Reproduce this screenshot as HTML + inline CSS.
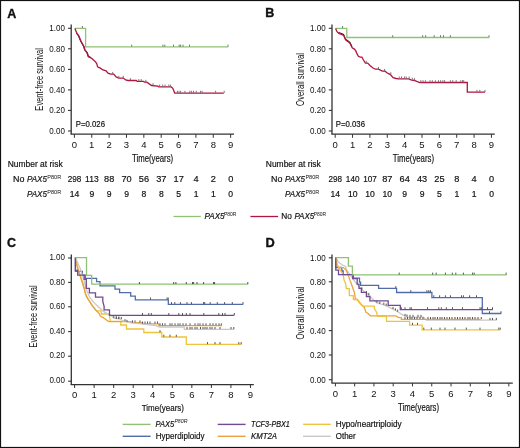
<!DOCTYPE html>
<html><head><meta charset="utf-8"><style>
html,body{margin:0;padding:0;background:#fff;}
svg{display:block;font-family:"Liberation Sans",sans-serif;filter:blur(0.35px);}
text{stroke:#111;stroke-width:0.18px;}
.lt{stroke-width:0;}
</style></head><body>
<svg width="520" height="448" viewBox="0 0 520 448">
<rect x="0" y="0" width="520" height="448" fill="#fff"/>
<path d="M71.2,24.5 V134.2" stroke="#333333" stroke-width="1.3" fill="none" stroke-linejoin="miter"/>
<path d="M68.0,28.3 H71.2" stroke="#333333" stroke-width="1.1" fill="none" stroke-linejoin="miter"/>
<text x="64.9" y="31.3" font-size="9.6" text-anchor="end" textLength="15.6" lengthAdjust="spacingAndGlyphs" fill="#111111" class="lt">1.00</text>
<path d="M68.0,48.8 H71.2" stroke="#333333" stroke-width="1.1" fill="none" stroke-linejoin="miter"/>
<text x="64.9" y="51.8" font-size="9.6" text-anchor="end" textLength="15.6" lengthAdjust="spacingAndGlyphs" fill="#111111" class="lt">0.80</text>
<path d="M68.0,69.4 H71.2" stroke="#333333" stroke-width="1.1" fill="none" stroke-linejoin="miter"/>
<text x="64.9" y="72.4" font-size="9.6" text-anchor="end" textLength="15.6" lengthAdjust="spacingAndGlyphs" fill="#111111" class="lt">0.60</text>
<path d="M68.0,89.9 H71.2" stroke="#333333" stroke-width="1.1" fill="none" stroke-linejoin="miter"/>
<text x="64.9" y="92.9" font-size="9.6" text-anchor="end" textLength="15.6" lengthAdjust="spacingAndGlyphs" fill="#111111" class="lt">0.40</text>
<path d="M68.0,110.4 H71.2" stroke="#333333" stroke-width="1.1" fill="none" stroke-linejoin="miter"/>
<text x="64.9" y="113.4" font-size="9.6" text-anchor="end" textLength="15.6" lengthAdjust="spacingAndGlyphs" fill="#111111" class="lt">0.20</text>
<path d="M68.0,131.0 H71.2" stroke="#333333" stroke-width="1.1" fill="none" stroke-linejoin="miter"/>
<text x="64.9" y="134.0" font-size="9.6" text-anchor="end" textLength="15.6" lengthAdjust="spacingAndGlyphs" fill="#111111" class="lt">0.00</text>
<path d="M70.60000000000001,134.2 H234" stroke="#333333" stroke-width="1.3" fill="none" stroke-linejoin="miter"/>
<path d="M74.4,134.2 V137.8" stroke="#333333" stroke-width="1.0" fill="none" stroke-linejoin="miter"/>
<text x="74.4" y="147.8" font-size="9.5" text-anchor="middle" fill="#111111" class="lt">0</text>
<path d="M91.76,134.2 V137.8" stroke="#333333" stroke-width="1.0" fill="none" stroke-linejoin="miter"/>
<text x="91.76" y="147.8" font-size="9.5" text-anchor="middle" fill="#111111" class="lt">1</text>
<path d="M109.12,134.2 V137.8" stroke="#333333" stroke-width="1.0" fill="none" stroke-linejoin="miter"/>
<text x="109.12" y="147.8" font-size="9.5" text-anchor="middle" fill="#111111" class="lt">2</text>
<path d="M126.48,134.2 V137.8" stroke="#333333" stroke-width="1.0" fill="none" stroke-linejoin="miter"/>
<text x="126.48" y="147.8" font-size="9.5" text-anchor="middle" fill="#111111" class="lt">3</text>
<path d="M143.84,134.2 V137.8" stroke="#333333" stroke-width="1.0" fill="none" stroke-linejoin="miter"/>
<text x="143.84" y="147.8" font-size="9.5" text-anchor="middle" fill="#111111" class="lt">4</text>
<path d="M161.2,134.2 V137.8" stroke="#333333" stroke-width="1.0" fill="none" stroke-linejoin="miter"/>
<text x="161.2" y="147.8" font-size="9.5" text-anchor="middle" fill="#111111" class="lt">5</text>
<path d="M178.56,134.2 V137.8" stroke="#333333" stroke-width="1.0" fill="none" stroke-linejoin="miter"/>
<text x="178.56" y="147.8" font-size="9.5" text-anchor="middle" fill="#111111" class="lt">6</text>
<path d="M195.92000000000002,134.2 V137.8" stroke="#333333" stroke-width="1.0" fill="none" stroke-linejoin="miter"/>
<text x="195.92000000000002" y="147.8" font-size="9.5" text-anchor="middle" fill="#111111" class="lt">7</text>
<path d="M213.28,134.2 V137.8" stroke="#333333" stroke-width="1.0" fill="none" stroke-linejoin="miter"/>
<text x="213.28" y="147.8" font-size="9.5" text-anchor="middle" fill="#111111" class="lt">8</text>
<path d="M230.64000000000001,134.2 V137.8" stroke="#333333" stroke-width="1.0" fill="none" stroke-linejoin="miter"/>
<text x="230.64000000000001" y="147.8" font-size="9.5" text-anchor="middle" fill="#111111" class="lt">9</text>
<text x="132.0" y="161.8" font-size="10.4" textLength="41.2" lengthAdjust="spacingAndGlyphs" fill="#111111">Time(years)</text>
<text transform="translate(42.7,79.4) rotate(-90)" x="0" y="0" class="lt" font-size="10.5" text-anchor="middle" textLength="62.5" lengthAdjust="spacingAndGlyphs" fill="#111111">Event-free survival</text>
<text x="75.8" y="127.0" font-size="8.9" textLength="29.2" lengthAdjust="spacingAndGlyphs" fill="#111111">P=0.026</text>
<path d="M332.0,24.5 V134.2" stroke="#333333" stroke-width="1.3" fill="none" stroke-linejoin="miter"/>
<path d="M328.8,28.3 H332.0" stroke="#333333" stroke-width="1.1" fill="none" stroke-linejoin="miter"/>
<text x="325.70000000000005" y="31.3" font-size="9.6" text-anchor="end" textLength="15.6" lengthAdjust="spacingAndGlyphs" fill="#111111" class="lt">1.00</text>
<path d="M328.8,48.8 H332.0" stroke="#333333" stroke-width="1.1" fill="none" stroke-linejoin="miter"/>
<text x="325.70000000000005" y="51.8" font-size="9.6" text-anchor="end" textLength="15.6" lengthAdjust="spacingAndGlyphs" fill="#111111" class="lt">0.80</text>
<path d="M328.8,69.4 H332.0" stroke="#333333" stroke-width="1.1" fill="none" stroke-linejoin="miter"/>
<text x="325.70000000000005" y="72.4" font-size="9.6" text-anchor="end" textLength="15.6" lengthAdjust="spacingAndGlyphs" fill="#111111" class="lt">0.60</text>
<path d="M328.8,89.9 H332.0" stroke="#333333" stroke-width="1.1" fill="none" stroke-linejoin="miter"/>
<text x="325.70000000000005" y="92.9" font-size="9.6" text-anchor="end" textLength="15.6" lengthAdjust="spacingAndGlyphs" fill="#111111" class="lt">0.40</text>
<path d="M328.8,110.4 H332.0" stroke="#333333" stroke-width="1.1" fill="none" stroke-linejoin="miter"/>
<text x="325.70000000000005" y="113.4" font-size="9.6" text-anchor="end" textLength="15.6" lengthAdjust="spacingAndGlyphs" fill="#111111" class="lt">0.20</text>
<path d="M328.8,131.0 H332.0" stroke="#333333" stroke-width="1.1" fill="none" stroke-linejoin="miter"/>
<text x="325.70000000000005" y="134.0" font-size="9.6" text-anchor="end" textLength="15.6" lengthAdjust="spacingAndGlyphs" fill="#111111" class="lt">0.00</text>
<path d="M331.4,134.2 H494.8" stroke="#333333" stroke-width="1.3" fill="none" stroke-linejoin="miter"/>
<path d="M335.20000000000005,134.2 V137.8" stroke="#333333" stroke-width="1.0" fill="none" stroke-linejoin="miter"/>
<text x="335.20000000000005" y="147.8" font-size="9.5" text-anchor="middle" fill="#111111" class="lt">0</text>
<path d="M352.56000000000006,134.2 V137.8" stroke="#333333" stroke-width="1.0" fill="none" stroke-linejoin="miter"/>
<text x="352.56000000000006" y="147.8" font-size="9.5" text-anchor="middle" fill="#111111" class="lt">1</text>
<path d="M369.9200000000001,134.2 V137.8" stroke="#333333" stroke-width="1.0" fill="none" stroke-linejoin="miter"/>
<text x="369.9200000000001" y="147.8" font-size="9.5" text-anchor="middle" fill="#111111" class="lt">2</text>
<path d="M387.28000000000003,134.2 V137.8" stroke="#333333" stroke-width="1.0" fill="none" stroke-linejoin="miter"/>
<text x="387.28000000000003" y="147.8" font-size="9.5" text-anchor="middle" fill="#111111" class="lt">3</text>
<path d="M404.64000000000004,134.2 V137.8" stroke="#333333" stroke-width="1.0" fill="none" stroke-linejoin="miter"/>
<text x="404.64000000000004" y="147.8" font-size="9.5" text-anchor="middle" fill="#111111" class="lt">4</text>
<path d="M422.00000000000006,134.2 V137.8" stroke="#333333" stroke-width="1.0" fill="none" stroke-linejoin="miter"/>
<text x="422.00000000000006" y="147.8" font-size="9.5" text-anchor="middle" fill="#111111" class="lt">5</text>
<path d="M439.36,134.2 V137.8" stroke="#333333" stroke-width="1.0" fill="none" stroke-linejoin="miter"/>
<text x="439.36" y="147.8" font-size="9.5" text-anchor="middle" fill="#111111" class="lt">6</text>
<path d="M456.72,134.2 V137.8" stroke="#333333" stroke-width="1.0" fill="none" stroke-linejoin="miter"/>
<text x="456.72" y="147.8" font-size="9.5" text-anchor="middle" fill="#111111" class="lt">7</text>
<path d="M474.08000000000004,134.2 V137.8" stroke="#333333" stroke-width="1.0" fill="none" stroke-linejoin="miter"/>
<text x="474.08000000000004" y="147.8" font-size="9.5" text-anchor="middle" fill="#111111" class="lt">8</text>
<path d="M491.44000000000005,134.2 V137.8" stroke="#333333" stroke-width="1.0" fill="none" stroke-linejoin="miter"/>
<text x="491.44000000000005" y="147.8" font-size="9.5" text-anchor="middle" fill="#111111" class="lt">9</text>
<text x="392.8" y="161.8" font-size="10.4" textLength="41.2" lengthAdjust="spacingAndGlyphs" fill="#111111">Time(years)</text>
<text transform="translate(303.5,79.4) rotate(-90)" x="0" y="0" class="lt" font-size="10.5" text-anchor="middle" textLength="53.0" lengthAdjust="spacingAndGlyphs" fill="#111111">Overall survival</text>
<text x="335.8" y="127.0" font-size="8.9" textLength="29.2" lengthAdjust="spacingAndGlyphs" fill="#111111">P=0.036</text>
<text x="7.2" y="17.8" font-size="12.5" font-weight="bold" fill="#111" style="stroke:#111;stroke-width:0.35px">A</text>
<text x="265.3" y="17.3" font-size="12.5" font-weight="bold" fill="#111" style="stroke:#111;stroke-width:0.35px">B</text>
<text x="6.9" y="247.3" font-size="12.5" font-weight="bold" fill="#111" style="stroke:#111;stroke-width:0.35px">C</text>
<text x="265.4" y="247" font-size="12.8" font-weight="bold" fill="#111" style="stroke:#111;stroke-width:0.35px">D</text>
<text x="7.7" y="166.7" font-size="8.6" textLength="55.0" lengthAdjust="spacingAndGlyphs" fill="#111111">Number at risk</text>
<text x="13.0" y="182.1" font-size="8.6" textLength="11.4" lengthAdjust="spacingAndGlyphs" fill="#111111">No</text>
<text x="26.9" y="182.1" font-size="8.6" textLength="20.0" lengthAdjust="spacingAndGlyphs" font-style="italic" fill="#111111">PAX5</text>
<text x="47.3" y="179.1" font-size="6.0" textLength="13.9" lengthAdjust="spacingAndGlyphs" fill="#111111" class="lt">P80R</text>
<text x="26.9" y="197.1" font-size="8.6" textLength="20.0" lengthAdjust="spacingAndGlyphs" font-style="italic" fill="#111111">PAX5</text>
<text x="47.3" y="194.1" font-size="6.0" textLength="13.9" lengthAdjust="spacingAndGlyphs" fill="#111111" class="lt">P80R</text>
<text x="74.5" y="182.4" font-size="9.2" text-anchor="middle" textLength="13.6" lengthAdjust="spacingAndGlyphs" fill="#111111">298</text>
<text x="74.5" y="197.0" font-size="8.6" text-anchor="middle" fill="#111111">14</text>
<text x="91.86" y="182.4" font-size="9.2" text-anchor="middle" textLength="13.6" lengthAdjust="spacingAndGlyphs" fill="#111111">113</text>
<text x="91.86" y="197.0" font-size="8.6" text-anchor="middle" fill="#111111">9</text>
<text x="109.22" y="182.4" font-size="9.2" text-anchor="middle" fill="#111111">88</text>
<text x="109.22" y="197.0" font-size="8.6" text-anchor="middle" fill="#111111">9</text>
<text x="126.58" y="182.4" font-size="9.2" text-anchor="middle" fill="#111111">70</text>
<text x="126.58" y="197.0" font-size="8.6" text-anchor="middle" fill="#111111">9</text>
<text x="143.94" y="182.4" font-size="9.2" text-anchor="middle" fill="#111111">56</text>
<text x="143.94" y="197.0" font-size="8.6" text-anchor="middle" fill="#111111">8</text>
<text x="161.3" y="182.4" font-size="9.2" text-anchor="middle" fill="#111111">37</text>
<text x="161.3" y="197.0" font-size="8.6" text-anchor="middle" fill="#111111">8</text>
<text x="178.66" y="182.4" font-size="9.2" text-anchor="middle" fill="#111111">17</text>
<text x="178.66" y="197.0" font-size="8.6" text-anchor="middle" fill="#111111">5</text>
<text x="196.01999999999998" y="182.4" font-size="9.2" text-anchor="middle" fill="#111111">4</text>
<text x="196.01999999999998" y="197.0" font-size="8.6" text-anchor="middle" fill="#111111">1</text>
<text x="213.38" y="182.4" font-size="9.2" text-anchor="middle" fill="#111111">2</text>
<text x="213.38" y="197.0" font-size="8.6" text-anchor="middle" fill="#111111">1</text>
<text x="230.74" y="182.4" font-size="9.2" text-anchor="middle" fill="#111111">0</text>
<text x="230.74" y="197.0" font-size="8.6" text-anchor="middle" fill="#111111">0</text>
<text x="265.8" y="166.7" font-size="8.6" textLength="55.0" lengthAdjust="spacingAndGlyphs" fill="#111111">Number at risk</text>
<text x="271.1" y="182.1" font-size="8.6" textLength="11.4" lengthAdjust="spacingAndGlyphs" fill="#111111">No</text>
<text x="285.0" y="182.1" font-size="8.6" textLength="20.0" lengthAdjust="spacingAndGlyphs" font-style="italic" fill="#111111">PAX5</text>
<text x="305.40000000000003" y="179.1" font-size="6.0" textLength="13.9" lengthAdjust="spacingAndGlyphs" fill="#111111" class="lt">P80R</text>
<text x="285.0" y="197.1" font-size="8.6" textLength="20.0" lengthAdjust="spacingAndGlyphs" font-style="italic" fill="#111111">PAX5</text>
<text x="305.40000000000003" y="194.1" font-size="6.0" textLength="13.9" lengthAdjust="spacingAndGlyphs" fill="#111111" class="lt">P80R</text>
<text x="335.3" y="182.4" font-size="9.2" text-anchor="middle" textLength="13.6" lengthAdjust="spacingAndGlyphs" fill="#111111">298</text>
<text x="335.3" y="197.0" font-size="8.6" text-anchor="middle" fill="#111111">14</text>
<text x="352.66" y="182.4" font-size="9.2" text-anchor="middle" textLength="13.6" lengthAdjust="spacingAndGlyphs" fill="#111111">140</text>
<text x="352.66" y="197.0" font-size="8.6" text-anchor="middle" fill="#111111">10</text>
<text x="370.02" y="182.4" font-size="9.2" text-anchor="middle" textLength="13.6" lengthAdjust="spacingAndGlyphs" fill="#111111">107</text>
<text x="370.02" y="197.0" font-size="8.6" text-anchor="middle" fill="#111111">10</text>
<text x="387.38" y="182.4" font-size="9.2" text-anchor="middle" fill="#111111">87</text>
<text x="387.38" y="197.0" font-size="8.6" text-anchor="middle" fill="#111111">10</text>
<text x="404.74" y="182.4" font-size="9.2" text-anchor="middle" fill="#111111">64</text>
<text x="404.74" y="197.0" font-size="8.6" text-anchor="middle" fill="#111111">9</text>
<text x="422.1" y="182.4" font-size="9.2" text-anchor="middle" fill="#111111">43</text>
<text x="422.1" y="197.0" font-size="8.6" text-anchor="middle" fill="#111111">9</text>
<text x="439.46000000000004" y="182.4" font-size="9.2" text-anchor="middle" fill="#111111">25</text>
<text x="439.46000000000004" y="197.0" font-size="8.6" text-anchor="middle" fill="#111111">5</text>
<text x="456.82" y="182.4" font-size="9.2" text-anchor="middle" fill="#111111">8</text>
<text x="456.82" y="197.0" font-size="8.6" text-anchor="middle" fill="#111111">1</text>
<text x="474.18" y="182.4" font-size="9.2" text-anchor="middle" fill="#111111">4</text>
<text x="474.18" y="197.0" font-size="8.6" text-anchor="middle" fill="#111111">1</text>
<text x="491.54" y="182.4" font-size="9.2" text-anchor="middle" fill="#111111">0</text>
<text x="491.54" y="197.0" font-size="8.6" text-anchor="middle" fill="#111111">0</text>
<path d="M173.5,216.5 H200.8" stroke="#8fc274" stroke-width="1.3" fill="none" stroke-linejoin="miter"/>
<text x="204.6" y="218.8" font-size="8.2" textLength="20.0" lengthAdjust="spacingAndGlyphs" font-style="italic" fill="#111111">PAX5</text>
<text x="224.0" y="216.0" font-size="6.2" textLength="12.4" lengthAdjust="spacingAndGlyphs" fill="#111111" class="lt">P80R</text>
<path d="M250.4,216.5 H278.1" stroke="#b3143f" stroke-width="1.3" fill="none" stroke-linejoin="miter"/>
<text x="281.3" y="218.9" font-size="8.2" textLength="10.6" lengthAdjust="spacingAndGlyphs" fill="#111111">No</text>
<text x="294.4" y="218.9" font-size="8.2" textLength="19.8" lengthAdjust="spacingAndGlyphs" font-style="italic" fill="#111111">PAX5</text>
<text x="313.7" y="216.0" font-size="6.2" textLength="12.4" lengthAdjust="spacingAndGlyphs" fill="#111111" class="lt">P80R</text>
<path d="M71.3,254.5 V384.7" stroke="#333333" stroke-width="1.3" fill="none" stroke-linejoin="miter"/>
<path d="M68.1,258.0 H71.3" stroke="#333333" stroke-width="1.1" fill="none" stroke-linejoin="miter"/>
<text x="65.0" y="260.2" font-size="9.6" text-anchor="end" textLength="15.6" lengthAdjust="spacingAndGlyphs" fill="#111111" class="lt">1.00</text>
<path d="M68.1,282.4 H71.3" stroke="#333333" stroke-width="1.1" fill="none" stroke-linejoin="miter"/>
<text x="65.0" y="284.59999999999997" font-size="9.6" text-anchor="end" textLength="15.6" lengthAdjust="spacingAndGlyphs" fill="#111111" class="lt">0.80</text>
<path d="M68.1,306.8 H71.3" stroke="#333333" stroke-width="1.1" fill="none" stroke-linejoin="miter"/>
<text x="65.0" y="309.0" font-size="9.6" text-anchor="end" textLength="15.6" lengthAdjust="spacingAndGlyphs" fill="#111111" class="lt">0.60</text>
<path d="M68.1,331.6 H71.3" stroke="#333333" stroke-width="1.1" fill="none" stroke-linejoin="miter"/>
<text x="65.0" y="333.8" font-size="9.6" text-anchor="end" textLength="15.6" lengthAdjust="spacingAndGlyphs" fill="#111111" class="lt">0.40</text>
<path d="M68.1,356.2 H71.3" stroke="#333333" stroke-width="1.1" fill="none" stroke-linejoin="miter"/>
<text x="65.0" y="358.4" font-size="9.6" text-anchor="end" textLength="15.6" lengthAdjust="spacingAndGlyphs" fill="#111111" class="lt">0.20</text>
<path d="M68.1,381.2 H71.3" stroke="#333333" stroke-width="1.1" fill="none" stroke-linejoin="miter"/>
<text x="65.0" y="383.4" font-size="9.6" text-anchor="end" textLength="15.6" lengthAdjust="spacingAndGlyphs" fill="#111111" class="lt">0.00</text>
<path d="M70.7,384.7 H253.8" stroke="#333333" stroke-width="1.3" fill="none" stroke-linejoin="miter"/>
<path d="M74.6,384.7 V388.0" stroke="#333333" stroke-width="1.0" fill="none" stroke-linejoin="miter"/>
<text x="74.6" y="398.0" font-size="9.5" text-anchor="middle" fill="#111111" class="lt">0</text>
<path d="M94.13999999999999,384.7 V388.0" stroke="#333333" stroke-width="1.0" fill="none" stroke-linejoin="miter"/>
<text x="94.13999999999999" y="398.0" font-size="9.5" text-anchor="middle" fill="#111111" class="lt">1</text>
<path d="M113.67999999999999,384.7 V388.0" stroke="#333333" stroke-width="1.0" fill="none" stroke-linejoin="miter"/>
<text x="113.67999999999999" y="398.0" font-size="9.5" text-anchor="middle" fill="#111111" class="lt">2</text>
<path d="M133.22,384.7 V388.0" stroke="#333333" stroke-width="1.0" fill="none" stroke-linejoin="miter"/>
<text x="133.22" y="398.0" font-size="9.5" text-anchor="middle" fill="#111111" class="lt">3</text>
<path d="M152.76,384.7 V388.0" stroke="#333333" stroke-width="1.0" fill="none" stroke-linejoin="miter"/>
<text x="152.76" y="398.0" font-size="9.5" text-anchor="middle" fill="#111111" class="lt">4</text>
<path d="M172.29999999999998,384.7 V388.0" stroke="#333333" stroke-width="1.0" fill="none" stroke-linejoin="miter"/>
<text x="172.29999999999998" y="398.0" font-size="9.5" text-anchor="middle" fill="#111111" class="lt">5</text>
<path d="M191.83999999999997,384.7 V388.0" stroke="#333333" stroke-width="1.0" fill="none" stroke-linejoin="miter"/>
<text x="191.83999999999997" y="398.0" font-size="9.5" text-anchor="middle" fill="#111111" class="lt">6</text>
<path d="M211.38,384.7 V388.0" stroke="#333333" stroke-width="1.0" fill="none" stroke-linejoin="miter"/>
<text x="211.38" y="398.0" font-size="9.5" text-anchor="middle" fill="#111111" class="lt">7</text>
<path d="M230.92,384.7 V388.0" stroke="#333333" stroke-width="1.0" fill="none" stroke-linejoin="miter"/>
<text x="230.92" y="398.0" font-size="9.5" text-anchor="middle" fill="#111111" class="lt">8</text>
<path d="M250.45999999999998,384.7 V388.0" stroke="#333333" stroke-width="1.0" fill="none" stroke-linejoin="miter"/>
<text x="250.45999999999998" y="398.0" font-size="9.5" text-anchor="middle" fill="#111111" class="lt">9</text>
<text x="141.7" y="410.5" font-size="9.5" textLength="42.3" lengthAdjust="spacingAndGlyphs" fill="#111111">Time(years)</text>
<text transform="translate(37.3,316.4) rotate(-90)" x="0" y="0" class="lt" font-size="10.3" text-anchor="middle" textLength="62.0" lengthAdjust="spacingAndGlyphs" fill="#111111">Event-free survival</text>
<path d="M332.0,254.5 V383.1" stroke="#333333" stroke-width="1.3" fill="none" stroke-linejoin="miter"/>
<path d="M328.8,257.8 H332.0" stroke="#333333" stroke-width="1.1" fill="none" stroke-linejoin="miter"/>
<text x="325.7" y="260.8" font-size="9.6" text-anchor="end" textLength="15.6" lengthAdjust="spacingAndGlyphs" fill="#111111" class="lt">1.00</text>
<path d="M328.8,281.8 H332.0" stroke="#333333" stroke-width="1.1" fill="none" stroke-linejoin="miter"/>
<text x="325.7" y="284.8" font-size="9.6" text-anchor="end" textLength="15.6" lengthAdjust="spacingAndGlyphs" fill="#111111" class="lt">0.80</text>
<path d="M328.8,306.0 H332.0" stroke="#333333" stroke-width="1.1" fill="none" stroke-linejoin="miter"/>
<text x="325.7" y="309.0" font-size="9.6" text-anchor="end" textLength="15.6" lengthAdjust="spacingAndGlyphs" fill="#111111" class="lt">0.60</text>
<path d="M328.8,330.6 H332.0" stroke="#333333" stroke-width="1.1" fill="none" stroke-linejoin="miter"/>
<text x="325.7" y="333.6" font-size="9.6" text-anchor="end" textLength="15.6" lengthAdjust="spacingAndGlyphs" fill="#111111" class="lt">0.40</text>
<path d="M328.8,355.0 H332.0" stroke="#333333" stroke-width="1.1" fill="none" stroke-linejoin="miter"/>
<text x="325.7" y="358.0" font-size="9.6" text-anchor="end" textLength="15.6" lengthAdjust="spacingAndGlyphs" fill="#111111" class="lt">0.20</text>
<path d="M328.8,379.7 H332.0" stroke="#333333" stroke-width="1.1" fill="none" stroke-linejoin="miter"/>
<text x="325.7" y="382.7" font-size="9.6" text-anchor="end" textLength="15.6" lengthAdjust="spacingAndGlyphs" fill="#111111" class="lt">0.00</text>
<path d="M331.4,383.1 H512.8" stroke="#333333" stroke-width="1.3" fill="none" stroke-linejoin="miter"/>
<path d="M335.4,383.1 V386.40000000000003" stroke="#333333" stroke-width="1.0" fill="none" stroke-linejoin="miter"/>
<text x="335.4" y="396.6" font-size="9.5" text-anchor="middle" fill="#111111" class="lt">0</text>
<path d="M354.66999999999996,383.1 V386.40000000000003" stroke="#333333" stroke-width="1.0" fill="none" stroke-linejoin="miter"/>
<text x="354.66999999999996" y="396.6" font-size="9.5" text-anchor="middle" fill="#111111" class="lt">1</text>
<path d="M373.94,383.1 V386.40000000000003" stroke="#333333" stroke-width="1.0" fill="none" stroke-linejoin="miter"/>
<text x="373.94" y="396.6" font-size="9.5" text-anchor="middle" fill="#111111" class="lt">2</text>
<path d="M393.21,383.1 V386.40000000000003" stroke="#333333" stroke-width="1.0" fill="none" stroke-linejoin="miter"/>
<text x="393.21" y="396.6" font-size="9.5" text-anchor="middle" fill="#111111" class="lt">3</text>
<path d="M412.47999999999996,383.1 V386.40000000000003" stroke="#333333" stroke-width="1.0" fill="none" stroke-linejoin="miter"/>
<text x="412.47999999999996" y="396.6" font-size="9.5" text-anchor="middle" fill="#111111" class="lt">4</text>
<path d="M431.75,383.1 V386.40000000000003" stroke="#333333" stroke-width="1.0" fill="none" stroke-linejoin="miter"/>
<text x="431.75" y="396.6" font-size="9.5" text-anchor="middle" fill="#111111" class="lt">5</text>
<path d="M451.02,383.1 V386.40000000000003" stroke="#333333" stroke-width="1.0" fill="none" stroke-linejoin="miter"/>
<text x="451.02" y="396.6" font-size="9.5" text-anchor="middle" fill="#111111" class="lt">6</text>
<path d="M470.28999999999996,383.1 V386.40000000000003" stroke="#333333" stroke-width="1.0" fill="none" stroke-linejoin="miter"/>
<text x="470.28999999999996" y="396.6" font-size="9.5" text-anchor="middle" fill="#111111" class="lt">7</text>
<path d="M489.55999999999995,383.1 V386.40000000000003" stroke="#333333" stroke-width="1.0" fill="none" stroke-linejoin="miter"/>
<text x="489.55999999999995" y="396.6" font-size="9.5" text-anchor="middle" fill="#111111" class="lt">8</text>
<path d="M508.83,383.1 V386.40000000000003" stroke="#333333" stroke-width="1.0" fill="none" stroke-linejoin="miter"/>
<text x="508.83" y="396.6" font-size="9.5" text-anchor="middle" fill="#111111" class="lt">9</text>
<text x="398.1" y="410.7" font-size="10.3" textLength="40.9" lengthAdjust="spacingAndGlyphs" fill="#111111">Time(years)</text>
<text transform="translate(304.2,313.0) rotate(-90)" x="0" y="0" class="lt" font-size="10.3" text-anchor="middle" textLength="53.0" lengthAdjust="spacingAndGlyphs" fill="#111111">Overall survival</text>
<path d="M122.7,424.4 H150.6" stroke="#8fc274" stroke-width="1.4" fill="none" stroke-linejoin="miter"/>
<text x="155.5" y="426.7" font-size="8.7" textLength="18.6" lengthAdjust="spacingAndGlyphs" font-style="italic" fill="#111111">PAX5</text>
<text x="174.4" y="423.3" font-size="6.0" textLength="13.0" lengthAdjust="spacingAndGlyphs" font-style="italic" fill="#111111" class="lt">P80R</text>
<path d="M122.7,436.3 H150.6" stroke="#506daa" stroke-width="1.4" fill="none" stroke-linejoin="miter"/>
<text x="155.8" y="438.7" font-size="8.4" textLength="48.6" lengthAdjust="spacingAndGlyphs" fill="#111111">Hyperdiploidy</text>
<path d="M217.7,424.4 H245.6" stroke="#704a92" stroke-width="1.4" fill="none" stroke-linejoin="miter"/>
<text x="251.0" y="426.79999999999995" font-size="8.4" font-style="italic" textLength="38.8" lengthAdjust="spacingAndGlyphs" fill="#111111">TCF3-PBX1</text>
<path d="M217.7,436.3 H245.6" stroke="#e9a23f" stroke-width="1.4" fill="none" stroke-linejoin="miter"/>
<text x="251.0" y="438.7" font-size="8.4" font-style="italic" textLength="26.0" lengthAdjust="spacingAndGlyphs" fill="#111111">KMT2A</text>
<path d="M303.1,424.3 H330.8" stroke="#f0c43a" stroke-width="1.4" fill="none" stroke-linejoin="miter"/>
<text x="335.8" y="426.7" font-size="8.4" textLength="65.8" lengthAdjust="spacingAndGlyphs" fill="#111111">Hypo/neartriploidy</text>
<path d="M303.1,436.3 H330.8" stroke="#c8c8cc" stroke-width="1.4" fill="none" stroke-linejoin="miter"/>
<text x="335.8" y="438.7" font-size="8.4" textLength="19.8" lengthAdjust="spacingAndGlyphs" fill="#111111">Other</text>
<path d="M74.8,28.3 H85.6 V46.9 H228.2" stroke="#8fc274" stroke-width="1.3" fill="none" stroke-linejoin="miter"/>
<path d="M76.5,33.1 L78.3,35.3 L80.5,40.7 L83.7,46.5 L84.5,49.6 L86.8,52.3 L88.1,56.3 L90.8,57.6" stroke="#1a1a1a" stroke-width="1.1" fill="none" stroke-linejoin="miter"/>
<path d="M74.9,28.4 L77,33.6 L78.8,35.8 L81,41.2 L84.2,47 L85,50.1 L87.3,52.8 L88.6,56.8 L91.3,58.1 L94,60.4 L95.8,62.2 L96.8,63.8 L97.6,66.9 L100.3,68.1 L103,70 L106.1,70.8 L108,73.1 L110.7,74.2 L113.8,74.2 L116.1,76.9 L118.8,78.1 L123.4,78.1 L125.7,80 L128,80.5 L136.3,80.5 L137.2,81.4 L143.5,81.4 L144.4,82.1 L146.8,82.1 L151.6,85.5 L157.9,86.2 L158.8,86.9 L171.3,86.9 L172.8,88.3 L174.7,93.1 L223.8,93.1" stroke="#b3143f" stroke-width="1.3" fill="none" stroke-linejoin="miter"/>
<path d="M335.6,28.3 H346.8 V37.5 H489.2" stroke="#8fc274" stroke-width="1.3" fill="none" stroke-linejoin="miter"/>
<path d="M338.6,32.6 L341.3,33.5 L343.5,34.4 L344.40000000000003,36.6 L345.3,38.800000000000004 L346.2,39.7 L348.40000000000003,41.1 L350.2,42.85 L351.1,45.1 L352.0,46.9" stroke="#1a1a1a" stroke-width="1.1" fill="none" stroke-linejoin="miter"/>
<path d="M335.6,28.5 L337,31.7 L338.8,33.5 L341.5,34.4 L343.7,35.3 L344.6,37.5 L345.5,39.7 L346.4,40.6 L348.6,42 L350.4,43.75 L351.3,46 L352.2,47.8 L354.4,49.1 L355.8,50.9 L356.7,53.1 L358.4,56.25 L360.2,57.1 L361.9,57.2 L363.5,60 L365.4,63.1 L367.7,63.1 L370,65.4 L372.7,67.7 L375.4,69.2 L378.5,69.2 L382.3,71.2 L385,71.2 L386.9,72.7 L390.4,74.6 L393.1,77.7 L396.2,78.5 L398.5,78.8 L408.7,78.8 L411,79.8 L414.4,80.5 L419.6,82.5 L467.3,82.5 L467.3,92.2 L485,92.2" stroke="#b3143f" stroke-width="1.3" fill="none" stroke-linejoin="miter"/>
<path d="M75.4,257.6 V271.4 H82.4 V275.1 H85.4 V278.4 H96.6 V281.7 H100.0 V285.9 H115 V289.2 H119.6 V292.7 H130.7 V296.2 H135.3 V299.8 H168.3 V304.4 H243.2" stroke="#506daa" stroke-width="1.3" fill="none" stroke-linejoin="miter"/>
<path d="M75.4,257.6 77.2,265.4 L78.7,270.75 L81,277.4 L83.6,285 L84.9,292.1 L86.25,296.2 L88.5,299.7 L90.7,302.9 L92.5,306.4 L94.7,308.2 L96.5,310.9 L101,310.9 L101.4,314 L109.5,314 L109.5,316.25 L110.4,321.3 L120.7,321.3 L120.7,325 L126.5,325 L126.5,329 L143.8,329 L143.8,332.5 L161.8,332.5 L161.8,337 L186.3,337 L186.3,344.4 L241.5,344.4 " stroke="#f0c43a" stroke-width="1.3" fill="none" stroke-linejoin="miter"/>
<path d="M75.4,257.6 76.9,265.4 L78,270 L80,275.4 L82.7,284.1 L84.5,289.5 L85.8,294.8 L87.6,298.4 L89.8,302 L92,305.1 L94.7,309.1 L97,311.3 L99.2,313.6 L100.5,316.25 L103.2,317.6 L105.9,319.4 L108.1,321.2 L109.5,321.6 L131.1,321.6 L131.1,322.7 L142.6,322.7 L142.6,323.8 L158.8,323.8 L158.8,325.6 L221.8,325.6 " stroke="#e9a23f" stroke-width="1.3" fill="none" stroke-linejoin="miter"/>
<path d="M75.4,257.6 80,268 L84,280 L86.25,289.5 L89.8,297.5 L94.3,302.9 L98.75,307.3 L102.3,310.4 L106.8,313.6 L111.25,315.6 L113.8,318.1 L120.7,319.2 L123,321 L129.9,322.7 L143.8,324.2 L155.3,325.5 L159.5,327.0 L184.3,327.0 L184.3,329.3 L234.3,329.3 " stroke="#c8c8cc" stroke-width="1.3" fill="none" stroke-linejoin="miter"/>
<path d="M75.4,257.6 V270.4 H77.7 V275.2 H84.2 V279.4 H86.3 V288.4 H89.4 V292.8 H95.5 V297.2 H102.8 V301.5 L104.1,306.4 V309.8 H109.5 V315.3 H234.3" stroke="#704a92" stroke-width="1.3" fill="none" stroke-linejoin="miter"/>
<path d="M75.4,257.6 H86.5 V275.4 H91.7 V284.2 H248.2" stroke="#8fc274" stroke-width="1.3" fill="none" stroke-linejoin="miter"/>
<path d="M335.8,257.6 V267.5 H341.8 V271.0 H343.2 V274.6 H353.4 V278.2 H359.5 V282.2 H360.6 V285.3 H378.6 V288.4 H396.6 V292.5 H431.9 V297.6 H482.3 V313.5 H501.3" stroke="#506daa" stroke-width="1.3" fill="none" stroke-linejoin="miter"/>
<path d="M335.8,257.6 338.6,262.3 L342.5,265 L345.8,266.7 L346.4,269.5 L351.5,276.9 L356,283 L361.9,289.6 L367.7,294.2 L372.3,298.8 L376.9,302.9 L383.8,304.9 L388.5,306.9 L394.2,309.8 L398.8,312.5 L403.8,315.6 L408.5,317.1 L423.8,317.1 L426.2,320.2 L496.7,320.2 " stroke="#c8c8cc" stroke-width="1.3" fill="none" stroke-linejoin="miter"/>
<path d="M335.8,257.6 336.9,266.2 L339.1,267.6 L343.3,267.6 L345.6,269.5 L347.2,272.5 L348.3,275.4 L350,280.4 L351.6,284.5 L353.3,289.5 L354.5,292.8 L355.3,298.6 L357.4,300.2 L358.5,300.8 L361.3,304.6 L364.4,307.4 L365.8,312.1 L368.1,313.5 L370.4,315.8 L395.8,315.8 L398.1,317.4 L401.3,317.6 L401.3,319.3 L480.6,319.3 " stroke="#e9a23f" stroke-width="1.3" fill="none" stroke-linejoin="miter"/>
<path d="M335.8,257.6 337.2,264 L338.8,268 L340.5,270.5 L342.8,274.5 L343.6,276.9 L344,280 L345.2,282.5 L346,285.7 L346.3,288.5 L349.2,288.6 L349.4,295.6 L353.2,295.6 L353.4,299.5 L357.8,299.5 L358.5,301.7 L360.2,303.5 L361.9,305.2 L363.1,306.2 L374.2,306.2 L374.6,309.2 L376.2,311.5 L376.9,313.3 L377.5,316.4 L386.4,316.4 L386.6,321.3 L409.6,321.3 L409.6,325.1 L422.1,325.1 L422.1,329.9 L500.2,329.9 " stroke="#f0c43a" stroke-width="1.3" fill="none" stroke-linejoin="miter"/>
<path d="M335.8,257.6 V270.1 H338.5 V274.7 H352.7 V278.7 H357.2 V284.2 H359.0 V288.4 H361.4 V292.3 H366.4 V296.5 H369.9 V300.9 H388.2 V305.4 H400.3 V309.6 H492.9" stroke="#704a92" stroke-width="1.3" fill="none" stroke-linejoin="miter"/>
<path d="M335.8,257.6 H348.4 V266.2 H352.4 V274.9 H506.5" stroke="#8fc274" stroke-width="1.3" fill="none" stroke-linejoin="miter"/>
<path d="M82.4,26.0 V28.1 M131.7,44.6 V46.7 M162.9,44.6 V46.7 M164.8,44.6 V46.7 M173.5,44.6 V46.7 M179.2,44.6 V46.7 M180.6,44.6 V46.7 M183,44.6 V46.7 M189.5,44.6 V46.7 M228,44.6 V46.7 M112.7,71.9 V74.0 M118.8,75.8 V77.9 M123.2,75.8 V77.9 M130.4,78.2 V80.3 M138.8,79.1 V81.2 M141.2,79.1 V81.2 M145.8,79.8 V81.9 M153.0,83.2 V85.3 M159.6,84.6 V86.7 M162.7,84.6 V86.7 M165,84.6 V86.7 M168.8,84.6 V86.7 M170.4,84.6 V86.7 M177.4,90.8 V92.9 M179,90.8 V92.9 M180.6,90.8 V92.9 M184.9,90.8 V92.9 M189.8,90.8 V92.9 M191.4,90.8 V92.9 M193.5,90.8 V92.9 M196.2,90.8 V92.9 M200.5,90.8 V92.9 M202.1,90.8 V92.9 M215.6,90.8 V92.9 M224.2,90.8 V92.9 M342.6,26.0 V28.1 M392.7,35.2 V37.3 M422.7,35.2 V37.3 M425.7,35.2 V37.3 M434.2,35.2 V37.3 M440.5,35.2 V37.3 M443.5,35.2 V37.3 M450.4,35.2 V37.3 M489,35.2 V37.3 M366.2,60.8 V62.9 M378.5,66.9 V69.0 M384.6,68.9 V71.0 M390.8,72.3 V74.4 M399.2,76.5 V78.6 M401.5,76.5 V78.6 M404.6,76.5 V78.6 M406.2,76.5 V78.6 M409.2,76.5 V78.6 M412.3,77.7 V79.8 M414.6,78.2 V80.3 M420.8,80.2 V82.3 M423,80.2 V82.3 M425.4,80.2 V82.3 M430,80.2 V82.3 M432.3,80.2 V82.3 M435.4,80.2 V82.3 M438.5,80.2 V82.3 M440.6,80.2 V82.3 M442.9,80.2 V82.3 M444.6,80.2 V82.3 M450.4,80.2 V82.3 M452.7,80.2 V82.3 M456.2,80.2 V82.3 M460.8,80.2 V82.3 M462.5,80.2 V82.3 M463.7,80.2 V82.3 M476.9,89.9 V92.0 M479.8,89.9 V92.0 M485,89.9 V92.0" stroke="#777777" stroke-width="1.0" fill="none" stroke-linejoin="miter"/>
<path d="M139.4,282.0 V284.1 M173.7,282.0 V284.1 M175.9,282.0 V284.1 M186.3,282.0 V284.1 M192.5,282.0 V284.1 M193.6,282.0 V284.1 M197,282.0 V284.1 M203.6,282.0 V284.1 M213.5,282.0 V284.1 M214.6,282.0 V284.1 M247.8,282.0 V284.1 M150.5,297.5 V299.6 M167.1,297.5 V299.6 M168.2,297.5 V299.6 M171.5,302.1 V304.2 M174.8,302.1 V304.2 M180.4,302.1 V304.2 M187,302.1 V304.2 M191.4,302.1 V304.2 M203.6,302.1 V304.2 M204.7,302.1 V304.2 M210.2,302.1 V304.2 M217.3,302.1 V304.2 M224.6,302.1 V304.2 M232.3,302.1 V304.2 M243,302.1 V304.2 M142.5,313.0 V315.1 M148.8,313.0 V315.1 M151.3,313.0 V315.1 M168.8,313.0 V315.1 M178.8,313.0 V315.1 M182.5,313.0 V315.1 M186.3,313.0 V315.1 M190,313.0 V315.1 M203.8,313.0 V315.1 M218.8,313.0 V315.1 M222.5,313.0 V315.1 M225,313.0 V315.1 M234.3,313.0 V315.1 M132.5,320.4 V322.5 M135,320.4 V322.5 M140,320.4 V322.5 M142.5,321.5 V323.6 M145,321.5 V323.6 M147.5,321.5 V323.6 M150,321.5 V323.6 M155,321.5 V323.6 M157.5,321.5 V323.6 M160,323.3 V325.4 M162.5,323.3 V325.4 M165,323.3 V325.4 M170,323.3 V325.4 M172,323.3 V325.4 M175,323.3 V325.4 M178,323.3 V325.4 M180,323.3 V325.4 M183,323.3 V325.4 M186,323.3 V325.4 M190,323.3 V325.4 M195,323.3 V325.4 M198,323.3 V325.4 M200,323.3 V325.4 M203,323.3 V325.4 M206,323.3 V325.4 M210,323.3 V325.4 M213,323.3 V325.4 M216,323.3 V325.4 M219,323.3 V325.4 M221.3,323.3 V325.4 M187,327.0 V329.1 M190,327.0 V329.1 M192,327.0 V329.1 M195,327.0 V329.1 M197,327.0 V329.1 M200.5,327.0 V329.1 M203,327.0 V329.1 M205,327.0 V329.1 M207,327.0 V329.1 M210,327.0 V329.1 M212,327.0 V329.1 M215,327.0 V329.1 M220,327.0 V329.1 M231,327.0 V329.1 M233.8,327.0 V329.1 M116.3,316.9 V319.0 M118.8,316.9 V319.0 M121.3,316.9 V319.0 M160,330.2 V332.3 M163.8,334.7 V336.8 M170,334.7 V336.8 M176.3,334.7 V336.8 M207.5,342.1 V344.2 M215,342.1 V344.2 M220,342.1 V344.2 M238.8,342.1 V344.2 M241.2,342.1 V344.2 M399.2,272.6 V274.7 M432.7,272.6 V274.7 M436.2,272.6 V274.7 M445.4,272.6 V274.7 M452.3,272.6 V274.7 M455.8,272.6 V274.7 M463.4,272.6 V274.7 M472.6,272.6 V274.7 M474.2,272.6 V274.7 M506.1,272.6 V274.7 M395.8,286.1 V288.2 M410.8,290.2 V292.3 M426.9,290.2 V292.3 M428.8,290.2 V292.3 M430.4,290.2 V292.3 M433.8,295.3 V297.4 M439.6,295.3 V297.4 M445.4,295.3 V297.4 M450.5,295.3 V297.4 M461.5,295.3 V297.4 M463.4,295.3 V297.4 M469.6,295.3 V297.4 M476.5,295.3 V297.4 M489.5,311.2 V313.3 M501,311.2 V313.3 M401.3,307.3 V309.4 M405,307.3 V309.4 M410,307.3 V309.4 M411.3,307.3 V309.4 M427.5,307.3 V309.4 M438.8,307.3 V309.4 M441.3,307.3 V309.4 M446.3,307.3 V309.4 M452.5,307.3 V309.4 M462.5,307.3 V309.4 M480,307.3 V309.4 M481.3,307.3 V309.4 M487.5,307.3 V309.4 M492.5,307.3 V309.4 M405,317.0 V319.1 M407.5,317.0 V319.1 M410,317.0 V319.1 M412,317.0 V319.1 M414.5,317.0 V319.1 M417,317.0 V319.1 M420,317.0 V319.1 M423,317.0 V319.1 M428,317.0 V319.1 M430.5,317.0 V319.1 M433,317.0 V319.1 M435,317.0 V319.1 M437.5,317.0 V319.1 M440,317.0 V319.1 M442,317.0 V319.1 M444.5,317.0 V319.1 M447,317.0 V319.1 M449.5,317.0 V319.1 M452,317.0 V319.1 M455,317.0 V319.1 M457.5,317.0 V319.1 M460,317.0 V319.1 M462.5,317.0 V319.1 M465,317.0 V319.1 M468,317.0 V319.1 M470,317.0 V319.1 M472.5,317.0 V319.1 M475,317.0 V319.1 M478,317.0 V319.1 M481.3,317.0 V319.1 M490,317.9 V320.0 M492.5,317.9 V320.0 M496.3,317.9 V320.0 M412.5,322.8 V324.9 M417.5,322.8 V324.9 M423.8,327.6 V329.7 M431.3,327.6 V329.7 M440,327.6 V329.7 M445,327.6 V329.7 M455,327.6 V329.7 M466.3,327.6 V329.7 M480,327.6 V329.7 M498.8,327.6 V329.7 M500.2,327.6 V329.7 M361.9,287.3 V289.4 M366.5,291.1 V293.2 M368.8,292.9 V295.0 M376.9,300.6 V302.7 M379.8,301.7 V303.8 M383.8,302.6 V304.7 M386.2,303.6 V305.7 M393,306.9 V309.0 M395.4,308.3 V310.4 M397.7,309.6 V311.7 M405,313.9 V316.0 M407,314.5 V316.6 M410,314.8 V316.9 M413,314.8 V316.9 M418,314.8 V316.9 M421,314.8 V316.9 M113.8,315.8 V317.9 M116.3,316.2 V318.3 M118.8,316.6 V318.7 M125,319.2 V321.3 M127,319.9 V322.0" stroke="#555555" stroke-width="1.0" fill="none" stroke-linejoin="miter"/>
<rect x="0.5" y="0.5" width="519" height="447" fill="none" stroke="#111" stroke-width="1.2"/>
</svg>
</body></html>
